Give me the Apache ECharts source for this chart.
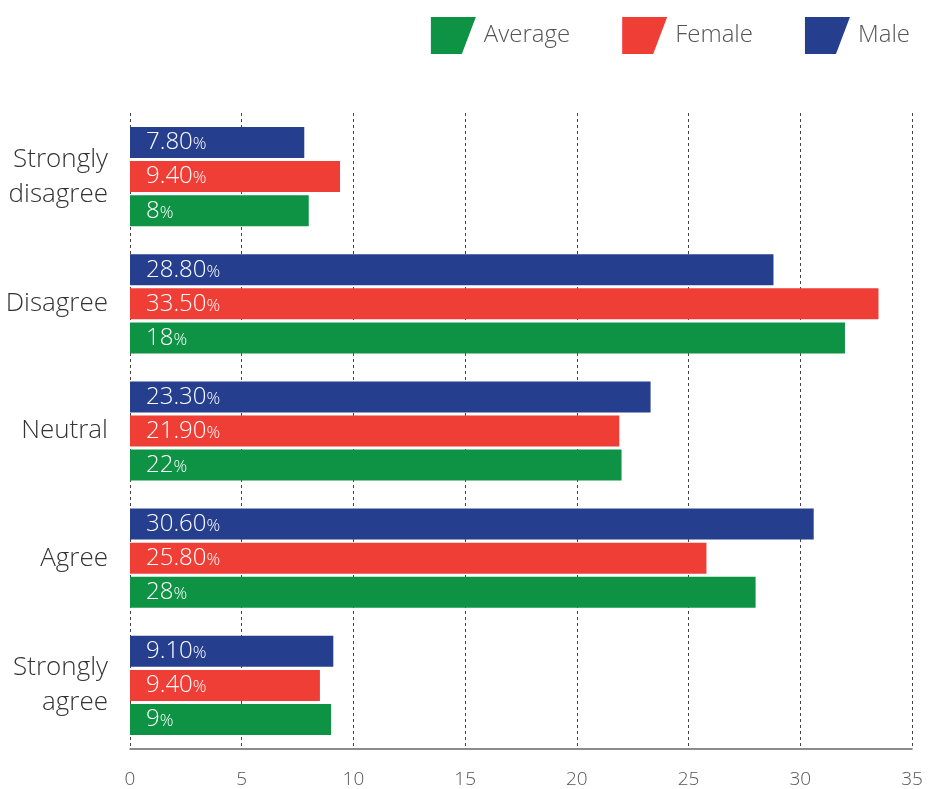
<!DOCTYPE html>
<html>
<head>
<meta charset="utf-8">
<script src="https://cdn.jsdelivr.net/npm/echarts@6/dist/echarts.min.js"></script>
<style>html,body{margin:0;padding:0;background:#fff}#c{width:935px;height:789px}</style>
</head>
<body>
<div id="c"></div>
<script>
var categories = ['Strongly\ndisagree', 'Disagree', 'Neutral', 'Agree', 'Strongly\nagree'];
var maleValues = [7.8, 28.8, 23.3, 30.6, 9.1];
var femaleValues = [9.4, 33.5, 21.9, 25.8, 8.5];
var averageValues = [8, 32, 22, 28, 9];
var maleLabels = ['7.80', '28.80', '23.30', '30.60', '9.10'];
var femaleLabels = ['9.40', '33.50', '21.90', '25.80', '9.40'];
var averageLabels = ['8', '18', '22', '28', '9'];
var xTicks = [0, 5, 10, 15, 20, 25, 30, 35];

var FONT = '"Open Sans", "Noto Sans", sans-serif';
var icon = 'path://M0,0 L45,0 L31,37 L0,37 Z';

function mkLabel(arr) {
  return {
    show: true,
    position: 'insideLeft',
    distance: 16,
    formatter: function (p) { return '{n|' + arr[p.dataIndex] + '}{p|%}'; },
    rich: {
      n: { color: '#fff', fontSize: 24, fontFamily: FONT, fontWeight: 300 },
      p: { color: '#fff', fontSize: 17, fontFamily: FONT, fontWeight: 300, padding: [4, 0, 0, 0] }
    }
  };
}

var chart = echarts.init(document.getElementById('c'));
chart.setOption({
  animation: false,
  legend: {
    data: ['Average', 'Female', 'Male'],
    top: 12,
    right: 20,
    itemWidth: 45,
    itemHeight: 37,
    itemGap: 52,
    icon: icon,
    textStyle: { fontSize: 24, color: '#555', fontFamily: FONT, fontWeight: 300, padding: [0, 0, 0, 3] }
  },
  grid: { left: 130, right: 23, top: 113, bottom: 40, containLabel: false },
  xAxis: {
    type: 'value',
    min: 0, max: 35, interval: 5,
    axisLine: { show: true, lineStyle: { color: '#666', width: 1.5 } },
    axisTick: { show: false },
    axisLabel: { fontSize: 19, color: '#555', fontFamily: FONT, fontWeight: 300, margin: 21,
      formatter: function (v) { return xTicks.indexOf(v) >= 0 ? String(v) : ''; } },
    splitLine: { show: true, lineStyle: { type: [3, 3], color: '#444', width: 1 } }
  },
  yAxis: {
    type: 'category',
    data: categories,
    inverse: true,
    axisLine: { show: false },
    axisTick: { show: false },
    axisLabel: { fontSize: 26, color: '#333', fontFamily: FONT, fontWeight: 300, margin: 22, lineHeight: 35, align: 'right' }
  },
  series: [
    { name: 'Male', type: 'bar', data: maleValues, barWidth: 31, barGap: '10%', itemStyle: { color: '#253e8d' }, label: mkLabel(maleLabels) },
    { name: 'Female', type: 'bar', data: femaleValues, barWidth: 31, barGap: '10%', itemStyle: { color: '#ef3e36' }, label: mkLabel(femaleLabels) },
    { name: 'Average', type: 'bar', data: averageValues, barWidth: 31, barGap: '10%', itemStyle: { color: '#0e9345' }, label: mkLabel(averageLabels) }
  ]
});
</script>
</body>
</html>
